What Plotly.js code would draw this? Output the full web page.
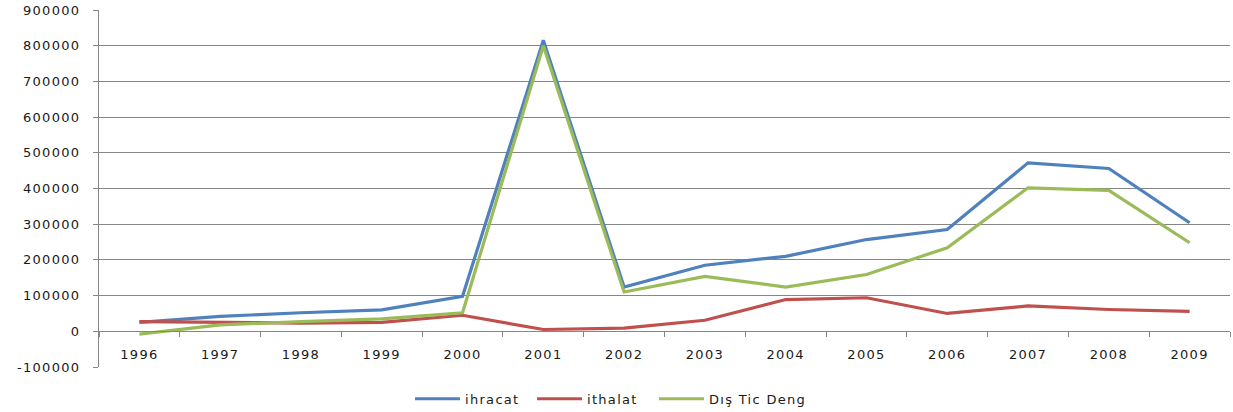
<!DOCTYPE html>
<html><head><meta charset="utf-8">
<script src="https://cdn.plot.ly/plotly-3.0.1.min.js"></script>
<style>html,body{margin:0;padding:0;background:#fff}#c{width:1233px;height:412px}
#c .xtick text,#c .ytick text,#c .legendtext{letter-spacing:1.3px}
#c .legend .scrollbox,#c .legend{clip-path:none !important}</style>
</head><body><div id="c"></div>
<script>
const years = ['1996','1997','1998','1999','2000','2001','2002','2003','2004','2005','2006','2007','2008','2009'];
const ihracat = [25000, 42000, 52000, 60000, 98000, 815000, 124000, 185000, 210000, 257000, 285000, 472000, 456000, 304000];
const ithalat = [27000, 25000, 23000, 25000, 45000, 5000, 9000, 31000, 89000, 94000, 50000, 71000, 61000, 56000];
const disTicDeng = [-8000, 18000, 27000, 35000, 52000, 800000, 110000, 154000, 124000, 159000, 234000, 402000, 395000, 248000];
const yTicks = [-100000, 0, 100000, 200000, 300000, 400000, 500000, 600000, 700000, 800000, 900000];

const font = {family: 'DejaVu Sans, sans-serif', size: 13, color: '#1a1a1a'};
const mk = (name, y, color) => ({type: 'scatter', mode: 'lines', name, x: years, y,
  line: {color, width: 3.2}, hoverinfo: 'x+y'});
const data = [
  mk('ihracat', ihracat, '#4F81BD'),
  mk('ithalat', ithalat, '#C0504D'),
  mk('Dış Tic Deng', disTicDeng, '#9BBB59')
];
const layout = {
  width: 1233, height: 412,
  margin: {l: 99, r: 3, t: 10, b: 45},
  paper_bgcolor: '#fff', plot_bgcolor: '#fff',
  font,
  showlegend: true,
  legend: {orientation: 'h', x: 0.275, xanchor: 'left', yref: 'container', y: 0.032, yanchor: 'middle',
    itemwidth: 45, entrywidth: 62, entrywidthmode: 'pixels', bgcolor: 'rgba(0,0,0,0)',
    font: {family: 'DejaVu Sans, sans-serif', size: 13, color: '#1a1a1a'}, traceorder: 'normal'},
  xaxis: {type: 'category', range: [-0.5, 13.5], anchor: 'free', position: 0.1,
    showline: true, linecolor: '#868686', linewidth: 1,
    ticks: 'outside', tickson: 'boundaries', ticklen: 5, tickcolor: '#868686',
    ticklabelstandoff: 11, showgrid: false, zeroline: false, fixedrange: true},
  yaxis: {range: [-100000, 900000], tickvals: yTicks, ticktext: yTicks.map(String),
    showline: true, linecolor: '#868686', linewidth: 1,
    ticks: 'outside', ticklen: 5, tickcolor: '#868686', ticklabelstandoff: 10,
    showgrid: true, gridcolor: '#868686', gridwidth: 1, zeroline: false, fixedrange: true}
};
Plotly.newPlot('c', data, layout, {displayModeBar: false, staticPlot: true});
</script></body></html>
